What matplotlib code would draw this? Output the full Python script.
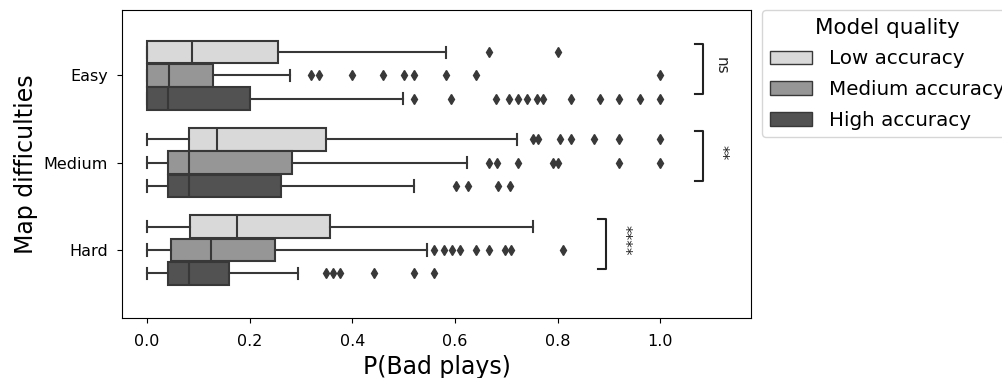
import matplotlib
matplotlib.use('Agg')
import matplotlib.pyplot as plt
from matplotlib.patches import Patch

# Categories and hue levels
difficulties = ['Easy', 'Medium', 'Hard']
qualities = ['Low accuracy', 'Medium accuracy', 'High accuracy']
colors = ['#d9d9d9', '#969696', '#525252']
line_gray = '#383838'

# Box statistics per difficulty (rows) and model quality (columns)
whislo = [[0.0, 0.0, 0.0], [0.0, 0.0, 0.0], [0.0, 0.0, 0.0]]
q1 = [[0.0, 0.0, 0.0], [0.081, 0.04, 0.04], [0.084, 0.046, 0.04]]
med = [[0.087, 0.043, 0.04], [0.136, 0.082, 0.082], [0.175, 0.125, 0.082]]
q3 = [[0.255, 0.128, 0.2], [0.348, 0.282, 0.26], [0.357, 0.249, 0.16]]
whishi = [[0.583, 0.279, 0.498], [0.72, 0.624, 0.52], [0.752, 0.545, 0.294]]

# Outliers
easy_fliers = [
    [0.667, 0.8],
    [0.32, 0.335, 0.40, 0.46, 0.50, 0.52, 0.583, 0.64, 1.0],
    [0.52, 0.593, 0.68, 0.706, 0.722, 0.741, 0.759, 0.771, 0.827, 0.882, 0.92, 0.96, 1.0],
]
medium_fliers = [
    [0.753, 0.762, 0.804, 0.826, 0.87, 0.92, 1.0],
    [0.667, 0.682, 0.722, 0.792, 0.80, 0.92, 1.0],
    [0.602, 0.626, 0.684, 0.708],
]
hard_fliers = [
    [],
    [0.56, 0.578, 0.594, 0.61, 0.64, 0.667, 0.698, 0.709, 0.81],
    [0.348, 0.362, 0.376, 0.442, 0.52, 0.56],
]
fliers = [easy_fliers, medium_fliers, hard_fliers]

# Significance labels (Low vs High per difficulty)
sig_labels = ['ns', '**', '****']

fig = plt.figure(figsize=(10.03, 3.78), dpi=100)
ax = fig.add_axes([0.1216, 0.1587, 0.6272, 0.8148])

hue_w = 0.8 / len(qualities)
for i, diff in enumerate(difficulties):
    for j, qual in enumerate(qualities):
        stats = [{
            'whislo': whislo[i][j], 'q1': q1[i][j], 'med': med[i][j],
            'q3': q3[i][j], 'whishi': whishi[i][j], 'fliers': fliers[i][j],
        }]
        pos = i + (j - 1) * hue_w
        ax.bxp(stats, positions=[pos], widths=hue_w * 0.97, vert=False,
               patch_artist=True, manage_ticks=False,
               boxprops=dict(facecolor=colors[j], edgecolor=line_gray, linewidth=1.5),
               medianprops=dict(color=line_gray, linewidth=1.5),
               whiskerprops=dict(color=line_gray, linewidth=1.5),
               capprops=dict(color=line_gray, linewidth=1.5),
               flierprops=dict(marker='d', markerfacecolor=line_gray,
                               markeredgecolor=line_gray, markersize=5))

# Significance brackets between Low and High accuracy
for i, label in enumerate(sig_labels):
    all_vals = [whishi[i][j] for j in range(3)] + [v for f in fliers[i] for v in f]
    xb = max(all_vals) + 0.084
    y1 = i - 0.36
    y2 = i + 0.215
    tick = 0.016
    ax.plot([xb - tick, xb, xb, xb - tick], [y1, y1, y2, y2],
            color='#222222', linewidth=1.5, clip_on=False)
    ax.text(xb + 0.02, (y1 + y2) / 2 - 0.04, label, rotation=-90,
            ha='left', va='center', fontsize=11, color='#222222')

ax.set_yticks(range(len(difficulties)))
ax.set_yticklabels(difficulties, fontsize=11.5)
ax.set_ylim(2.78, -0.75)
ax.set_xlim(-0.049, 1.177)
ax.set_xticks([0.0, 0.2, 0.4, 0.6, 0.8, 1.0])
ax.set_xticklabels(['0.0', '0.2', '0.4', '0.6', '0.8', '1.0'], fontsize=11.5)
ax.tick_params(axis='y', pad=6.5)
ax.tick_params(axis='x', pad=8)
ax.set_xlabel('P(Bad plays)', fontsize=17)
ax.set_ylabel('Map difficulties', fontsize=17)

handles = [Patch(facecolor=c, edgecolor=line_gray, linewidth=1.0) for c in colors]
ax.legend(handles, qualities, title='Model quality', fontsize=14.3, title_fontsize=15.5,
          loc='upper left', bbox_to_anchor=(1.0175, 1.0), borderaxespad=0,
          labelspacing=0.58, handlelength=2.1, handletextpad=0.85)

fig.savefig('out.png', dpi=100)
